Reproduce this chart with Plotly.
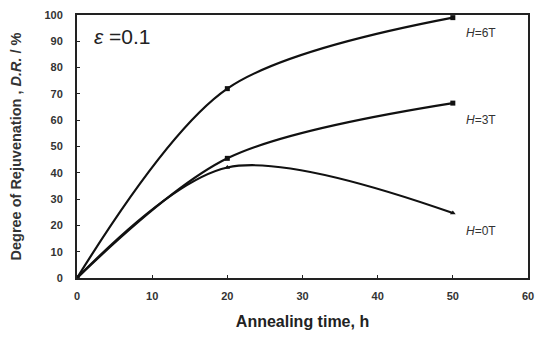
import plotly.graph_objects as go

time_h = [0, 20, 50]
dr_6T = [0, 72, 99]
dr_3T = [0, 45.5, 66.5]
dr_0T = [0, 42, 24.7]
series = [("H=6T", dr_6T, "square"), ("H=3T", dr_3T, "square"), ("H=0T", dr_0T, "triangle-up")]
x_ticks = [0, 10, 20, 30, 40, 50, 60]
y_ticks = [0, 10, 20, 30, 40, 50, 60, 70, 80, 90, 100]

fig = go.Figure()
for name, ys, sym in series:
    fig.add_trace(go.Scatter(x=time_h, y=ys, mode="lines+markers", name=name,
                             line=dict(color="#111", width=2.2, shape="spline", smoothing=0.9),
                             marker=dict(symbol=sym, size=5, color="#111"), showlegend=False))

labels = [("<i>H</i>=6T", 51.5, 93), ("<i>H</i>=3T", 51.5, 60), ("<i>H</i>=0T", 51.5, 18)]
for txt, x, y in labels:
    fig.add_annotation(x=x, y=y, text=txt, showarrow=False, xanchor="left",
                       font=dict(family="Liberation Sans", size=12, color="#333"))
fig.add_annotation(x=2.0, y=91.8, text="<i>ε</i> =0.1", showarrow=False, xanchor="left",
                   font=dict(family="Liberation Sans", size=21, color="#222"))

axis_common = dict(showline=True, linecolor="#222", linewidth=2, mirror=True,
                   ticks="inside", ticklen=3, tickcolor="#222", showgrid=False, zeroline=False,
                   automargin=False,
                   tickfont=dict(family="Liberation Sans", size=11, color="#333", weight="bold"))
fig.update_xaxes(range=[0, 60], tickvals=x_ticks, ticklabelstandoff=7,
                 title=dict(text="<b>Annealing time, h</b>", font=dict(family="Liberation Sans", size=16, color="#222"), standoff=15),
                 **axis_common)
fig.update_yaxes(range=[0, 100], tickvals=y_ticks, ticklabelstandoff=10,
                 title=dict(text="<b>Degree of Rejuvenation , <i>D.R.</i> / %</b>", font=dict(family="Liberation Sans", size=14.5, color="#333"), standoff=19),
                 **axis_common)
fig.update_layout(width=537, height=336, margin=dict(l=69, r=17, t=7, b=66),
                  plot_bgcolor="white", paper_bgcolor="white")
fig.write_html("out.html")
